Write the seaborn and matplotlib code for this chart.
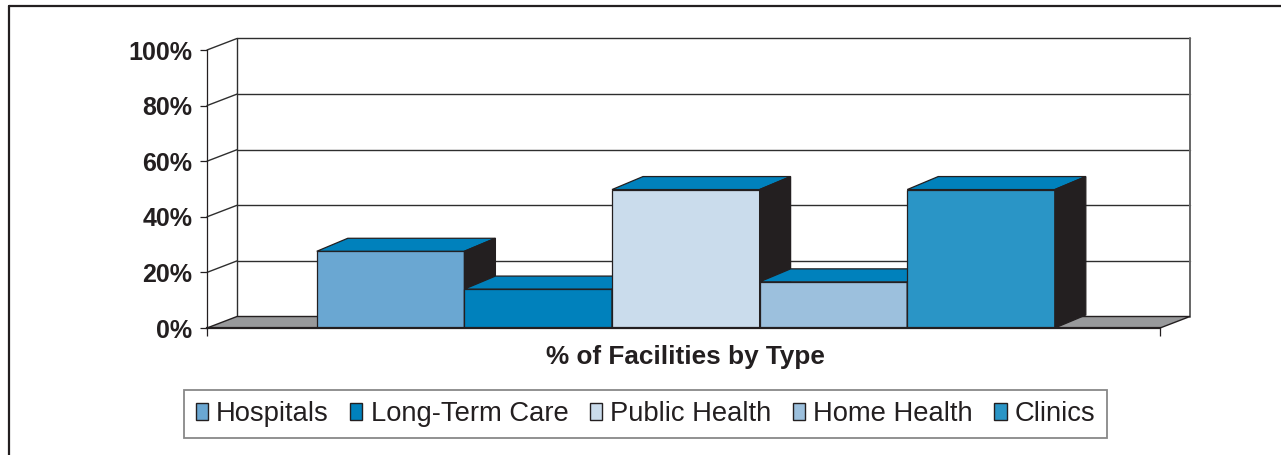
import matplotlib
matplotlib.use("Agg")
import matplotlib.pyplot as plt
from matplotlib.patches import Polygon, Patch
from matplotlib.lines import Line2D
import numpy as np
import pandas as pd
import seaborn as sns

# Share of facilities by type (percent)
facility_types = ["Hospitals", "Long-Term Care", "Public Health", "Home Health", "Clinics"]
shares = [27.6, 14.0, 49.8, 16.6, 49.8]
group_label = "% of Facilities by Type"
y_ticks = [0, 20, 40, 60, 80, 100]
y_tick_labels = ["0%", "20%", "40%", "60%", "80%", "100%"]

front_colors = ["#6AA7D2", "#0081BC", "#CADCEC", "#9CC0DD", "#2A95C6"]
top_color = "#0081BC"
side_color = "#231F20"
floor_color = "#98999B"
ink = "#231F20"

df = pd.DataFrame({"group": [group_label] * len(facility_types),
                   "type": facility_types,
                   "share": shares})

sns.set_style("white")
plt.rcParams["font.family"] = ["Liberation Sans", "DejaVu Sans"]

W, H, DPI = 1281, 455, 100
fig = plt.figure(figsize=(W / DPI, H / DPI), dpi=DPI)
fig.patch.set_facecolor("white")

# front plane of the plot area, in pixels
px_left, px_right, px_top, px_bottom = 207, 1160, 50, 328
ax = fig.add_axes([px_left / W, 1 - px_bottom / H,
                   (px_right - px_left) / W, (px_bottom - px_top) / H])
ax.patch.set_alpha(0)

sns.barplot(data=df, x="group", y="share", hue="type", hue_order=facility_types,
            palette=front_colors, width=0.8, saturation=1, dodge=True,
            edgecolor=ink, linewidth=0.9, legend=False, ax=ax)

xmin, xmax = -0.519, 0.514
ax.set_xlim(xmin, xmax)
ax.set_ylim(0, 100)
ax.set_xlabel("")
ax.set_ylabel("")

# pixel depth offsets for the walls and for the bars
wall_dx, wall_dy = 30, 11.5
bar_dx, bar_dy = 31, 13


def shift(x, y, dx, dy):
    p = ax.transData.transform((x, y))
    return ax.transData.inverted().transform(p + np.array([dx, dy]))


grid_kw = dict(color="#2E2E2E", lw=1.0, zorder=1, clip_on=False)
for t in y_ticks[1:]:
    bl = shift(xmin, t, wall_dx, wall_dy)
    br = shift(xmax, t, wall_dx, wall_dy)
    ax.add_line(Line2D([bl[0], br[0]], [bl[1], br[1]], **grid_kw))
    ax.add_line(Line2D([xmin, bl[0]], [t, bl[1]], **grid_kw))

# back wall side edges
b0 = shift(xmin, 0, wall_dx, wall_dy)
b1 = shift(xmin, 100, wall_dx, wall_dy)
ax.add_line(Line2D([b0[0], b1[0]], [b0[1], b1[1]], **grid_kw))
r0 = shift(xmax, 0, wall_dx, wall_dy)
r1 = shift(xmax, 100, wall_dx, wall_dy)
ax.add_line(Line2D([r0[0], r1[0]], [r0[1], r1[1]], color="#666666", lw=1.4,
                   zorder=1, clip_on=False))

# floor
floor = Polygon([(xmin, 0), (xmax, 0), tuple(r0), tuple(b0)], closed=True,
                facecolor=floor_color, edgecolor=ink, lw=1.0, zorder=1.5,
                clip_on=False)
ax.add_patch(floor)

# extruded tops and right-hand sides of the bars
bars = sorted([p for c in ax.containers for p in c], key=lambda p: p.get_x())
for i, bar in enumerate(bars):
    x0 = bar.get_x()
    x1 = x0 + bar.get_width()
    h = bar.get_height()
    z = 3 + 3 * i
    bar.set_zorder(z)
    tl = shift(x0, h, bar_dx, bar_dy)
    tr = shift(x1, h, bar_dx, bar_dy)
    br_ = shift(x1, 0, bar_dx, bar_dy)
    top = Polygon([(x0, h), (x1, h), tuple(tr), tuple(tl)], closed=True,
                  facecolor=top_color, edgecolor=ink, lw=0.9, zorder=z + 1,
                  clip_on=False)
    side = Polygon([(x1, 0), (x1, h), tuple(tr), tuple(br_)], closed=True,
                   facecolor=side_color, edgecolor=ink, lw=0.9, zorder=z + 2,
                   clip_on=False)
    ax.add_patch(top)
    ax.add_patch(side)

# axes styling
for s in ["top", "right"]:
    ax.spines[s].set_visible(False)
ax.spines["left"].set_color(ink)
ax.spines["left"].set_linewidth(0.9)
ax.spines["bottom"].set_color(ink)
ax.spines["bottom"].set_linewidth(1.6)
ax.spines["bottom"].set_zorder(30)
ax.set_yticks(y_ticks)
ax.set_yticklabels(y_tick_labels, fontsize=18, fontweight="bold", color=ink)
ax.set_xticks([xmin, xmax])
ax.set_xticklabels(["", ""])
ax.tick_params(axis="y", direction="out", length=5, width=0.9, color=ink, pad=5.5,
               left=True)
ax.tick_params(axis="x", direction="out", length=5.5, width=0.9, color=ink,
               bottom=True)

fig.text(685 / W, 1 - 357 / H, group_label, ha="center", va="center",
         fontsize=18.8, fontweight="bold", color=ink)

handles = [Patch(facecolor=c, edgecolor=ink, lw=1.0) for c in front_colors]
leg = fig.legend(handles, facility_types, loc="center",
                 bbox_to_anchor=(645.5 / W, 1 - 414 / H), ncol=5, fontsize=19.7,
                 frameon=True, fancybox=False, shadow=False, edgecolor="#6A6A6A",
                 handlelength=0.45, handleheight=0.55, handletextpad=0.3,
                 columnspacing=0.78, borderpad=0.42, borderaxespad=0)
leg.get_frame().set_linewidth(1.3)
for t in leg.get_texts():
    t.set_color(ink)

# outer frame: top and left edges
fig.add_artist(Line2D([9 / W, 1], [1 - 6 / H, 1 - 6 / H], transform=fig.transFigure,
                      color=ink, lw=1.6))
fig.add_artist(Line2D([9 / W, 9 / W], [0, 1 - 6 / H], transform=fig.transFigure,
                      color=ink, lw=1.6))

fig.savefig("out.png", dpi=DPI, facecolor="white")
